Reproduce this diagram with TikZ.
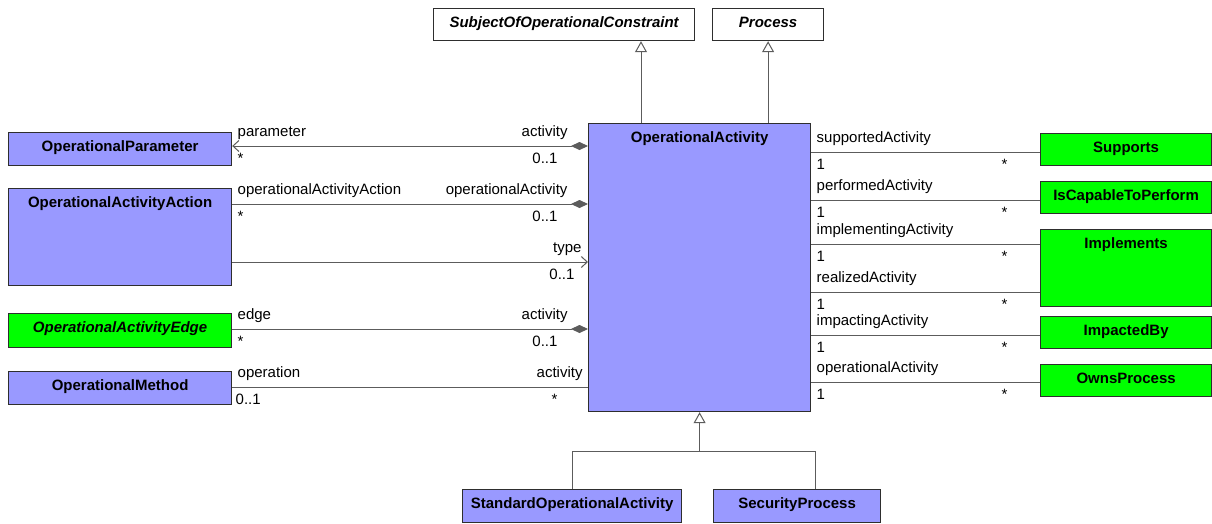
\documentclass[tikz,border=0pt]{standalone}
\usepackage{fontspec}
\setmainfont{Liberation Sans}
\usetikzlibrary{positioning,arrows.meta}
\definecolor{opBlue}{HTML}{9999FF}
\definecolor{relGreen}{HTML}{00FF00}
\definecolor{lineGray}{HTML}{5C5C5C}
\definecolor{boxLine}{HTML}{2E2E2E}
\newcommand{\umlsize}{\fontsize{15}{18}\selectfont}

\begin{document}
\begin{tikzpicture}[
    x=1pt, y=-1pt,
    cls/.style={draw=boxLine, line width=1.2pt, fill=#1, anchor=north west, inner sep=0pt,
      text height=19pt, font=\umlsize\bfseries},
    lbl/.style={inner sep=0pt, text height=11pt, text depth=3pt, font=\umlsize},
    assoc/.style={draw=lineGray, line width=1pt},
    gen/.style={assoc, -{Triangle[open, length=11pt, width=12pt]}},
    comp/.style={-{Diamond[length=17pt, width=8pt]}},
    nav/.style={-{Straight Barb[length=6pt, width=11pt]}}
  ]
  \useasboundingbox (0,0) rectangle (1212,523);

  % classes
  \node[cls=white, minimum width=261pt, text depth=13pt] (soc) at (433,8) {\itshape SubjectOfOperationalConstraint};
  \node[cls=white, minimum width=111pt, text depth=13pt] (proc) at (712,8) {\itshape Process};
  \node[cls=opBlue, minimum width=222pt, text depth=269pt] (oa) at (588,123) {OperationalActivity};

  \node[cls=opBlue, minimum width=223pt, text depth=14pt] (param) at (8,132) {OperationalParameter};
  \node[cls=opBlue, minimum width=223pt, text depth=78pt] (oaa) at (8,188) {OperationalActivityAction};
  \node[cls=relGreen, minimum width=223pt, text depth=15pt] (edge) at (8,313) {\itshape OperationalActivityEdge};
  \node[cls=opBlue, minimum width=223pt, text depth=14pt] (meth) at (8,371) {OperationalMethod};

  \node[cls=relGreen, minimum width=171pt, text depth=13pt] (sup) at (1040,133) {Supports};
  \node[cls=relGreen, minimum width=171pt, text depth=13pt] (icp) at (1040,181) {IsCapableToPerform};
  \node[cls=relGreen, minimum width=171pt, text depth=58pt] (impl) at (1040,229) {Implements};
  \node[cls=relGreen, minimum width=171pt, text depth=13pt] (impby) at (1040,316) {ImpactedBy};
  \node[cls=relGreen, minimum width=171pt, text depth=13pt] (owns) at (1040,364) {OwnsProcess};

  \node[cls=opBlue, minimum width=219pt, text depth=14pt] (std) at (462,489) {StandardOperationalActivity};
  \node[cls=opBlue, minimum width=167pt, text depth=14pt] (sec) at (713,489) {SecurityProcess};

  % generalizations
  \draw[gen] (oa.north -| 641,0) -- (soc.south -| 641,0);
  \draw[gen] (proc.south |- oa.north) -- (proc.south);
  \draw[gen] (std.north) |- (oa.south |- 0,451) -- (oa.south);
  \draw[assoc] (sec.north -| 815,0) |- (oa.south |- 0,451);

  % associations, left side
  \draw[assoc, {Straight Barb[length=6pt, width=11pt]}-{Diamond[length=17pt, width=8pt]}]
    (param.east |- 0,146) -- (oa.west |- 0,146)
    node[lbl, at start, above right=6.5pt and 5pt] {parameter}
    node[lbl, at start, below right=6pt and 5pt] {*}
    node[lbl, at end, above left=6.5pt and 20pt] {activity}
    node[lbl, at end, below left=6pt and 30pt] {0..1};
  \draw[assoc, comp] (oaa.east |- 0,204) -- (oa.west |- 0,204)
    node[lbl, at start, above right=6.5pt and 5pt] {operationalActivityAction}
    node[lbl, at start, below right=6pt and 5pt] {*}
    node[lbl, at end, above left=6.5pt and 20pt] {operationalActivity}
    node[lbl, at end, below left=6pt and 30pt] {0..1};
  \draw[assoc, nav] (oaa.east |- 0,262) -- (oa.west |- 0,262)
    node[lbl, at end, above left=6.5pt and 6pt] {type}
    node[lbl, at end, below left=6pt and 13pt] {0..1};
  \draw[assoc, comp] (edge.east |- 0,329) -- (oa.west |- 0,329)
    node[lbl, at start, above right=6.5pt and 5pt] {edge}
    node[lbl, at start, below right=6pt and 5pt] {*}
    node[lbl, at end, above left=6.5pt and 20pt] {activity}
    node[lbl, at end, below left=6pt and 30pt] {0..1};
  \draw[assoc] (meth.east |- 0,387) -- (oa.west |- 0,387)
    node[lbl, at start, above right=6.5pt and 5pt] {operation}
    node[lbl, at start, below right=6pt and 3pt] {0..1}
    node[lbl, at end, above left=6.5pt and 5pt] {activity}
    node[lbl, at end, below left=6pt and 30pt] {*};

  % associations, right side
  \draw[assoc] (oa.east |- 0,152) -- (sup.west |- 0,152)
    node[lbl, at start, above right=6.5pt and 5pt] {supportedActivity}
    node[lbl, at start, below right=6pt and 5pt] {1}
    node[lbl, at end, below left=6pt and 32pt] {*};
  \draw[assoc] (oa.east |- 0,200) -- (icp.west |- 0,200)
    node[lbl, at start, above right=6.5pt and 5pt] {performedActivity}
    node[lbl, at start, below right=6pt and 5pt] {1}
    node[lbl, at end, below left=6pt and 32pt] {*};
  \draw[assoc] (oa.east |- 0,244) -- (impl.west |- 0,244)
    node[lbl, at start, above right=6.5pt and 5pt] {implementingActivity}
    node[lbl, at start, below right=6pt and 5pt] {1}
    node[lbl, at end, below left=6pt and 32pt] {*};
  \draw[assoc] (oa.east |- 0,292) -- (impl.west |- 0,292)
    node[lbl, at start, above right=6.5pt and 5pt] {realizedActivity}
    node[lbl, at start, below right=6pt and 5pt] {1}
    node[lbl, at end, below left=6pt and 32pt] {*};
  \draw[assoc] (oa.east |- 0,335) -- (impby.west |- 0,335)
    node[lbl, at start, above right=6.5pt and 5pt] {impactingActivity}
    node[lbl, at start, below right=6pt and 5pt] {1}
    node[lbl, at end, below left=6pt and 32pt] {*};
  \draw[assoc] (oa.east |- 0,382) -- (owns.west |- 0,382)
    node[lbl, at start, above right=6.5pt and 5pt] {operationalActivity}
    node[lbl, at start, below right=6pt and 5pt] {1}
    node[lbl, at end, below left=6pt and 32pt] {*};
\end{tikzpicture}
\end{document}
